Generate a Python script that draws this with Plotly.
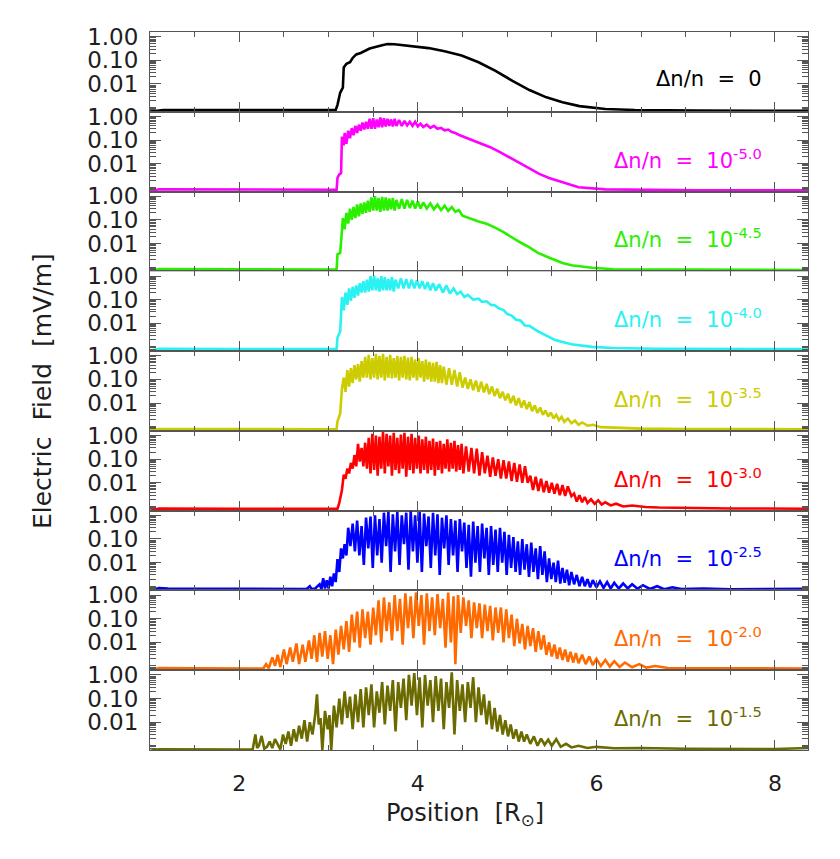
import plotly.graph_objects as go
from plotly.subplots import make_subplots

# ---------------- data (position [R_sun], electric field [mV/m]) ----------------
LABEL_EXPONENTS = ["0", "-5.0", "-4.5", "-4.0", "-3.5", "-3.0", "-2.5", "-2.0", "-1.5"]
LINE_COLORS = ["#000000", "#ff00ff", "#2af000", "#2af2f2", "#cccc00",
               "#ff0000", "#0000ff", "#ff6a00", "#6b6b00"]

BLACK = [(1.00, 6.8e-4), (1.05, 7.2e-4), (1.10, 7.9e-4), (1.15, 7.9e-4), (1.5, 7.9e-4), (2.0, 7.9e-4),
         (2.5, 7.9e-4), (3.0, 7.9e-4), (3.08, 7.9e-4), (3.10, 1.3e-3), (3.13, 4.2e-3), (3.16, 6.9e-3),
         (3.17, 0.05), (3.20, 0.071), (3.24, 0.083), (3.27, 0.126), (3.31, 0.178), (3.36, 0.204),
         (3.46, 0.316), (3.60, 0.44), (3.66, 0.49), (3.74, 0.48), (3.93, 0.40), (4.12, 0.33),
         (4.30, 0.24), (4.49, 0.16), (4.68, 0.083), (4.87, 0.036), (5.06, 0.0135), (5.25, 0.0055),
         (5.44, 0.0027), (5.62, 0.00166), (5.81, 0.00115), (6.10, 8.7e-4), (6.43, 7.9e-4),
         (7.13, 7.4e-4), (8.37, 7.2e-4)]

MAGENTA = [(1.00, 6.8e-4), (1.05, 7.4e-4), (1.10, 8.2e-4), (1.15, 8.2e-4), (2.0, 8.0e-4), (3.0, 7.9e-4),
           (3.09, 7.9e-4), (3.10, 2.5e-3), (3.12, 3.5e-3), (3.14, 4.0e-3), (3.15, 0.14), (3.17, 0.06),
           (3.18, 0.2), (3.20, 0.07), (3.22, 0.25), (3.24, 0.12), (3.26, 0.32), (3.28, 0.16),
           (3.30, 0.4), (3.32, 0.2), (3.34, 0.45), (3.36, 0.25), (3.38, 0.55), (3.40, 0.28),
           (3.42, 0.6), (3.44, 0.3), (3.46, 0.8), (3.48, 0.3), (3.50, 0.85), (3.52, 0.3),
           (3.54, 0.75), (3.56, 0.35), (3.58, 0.9), (3.60, 0.35), (3.62, 0.85), (3.64, 0.38),
           (3.66, 0.8), (3.68, 0.4), (3.70, 0.75), (3.72, 0.38), (3.74, 0.8), (3.76, 0.4),
           (3.79, 0.7), (3.82, 0.4), (3.85, 0.65), (3.88, 0.42), (3.91, 0.6), (3.94, 0.4),
           (3.97, 0.6), (4.00, 0.38), (4.03, 0.5), (4.06, 0.36), (4.10, 0.45), (4.14, 0.33),
           (4.18, 0.4), (4.22, 0.3), (4.26, 0.33), (4.30, 0.26), (4.34, 0.28), (4.38, 0.22),
           (4.42, 0.2), (4.47, 0.16), (4.58, 0.11), (4.70, 0.076), (4.81, 0.05), (4.92, 0.031),
           (5.03, 0.018), (5.14, 0.011), (5.25, 0.0063), (5.36, 0.0037), (5.47, 0.0025),
           (5.58, 0.0018), (5.69, 0.0013), (5.80, 1.0e-3), (6.10, 8.2e-4), (6.43, 7.8e-4),
           (7.13, 7.5e-4), (8.37, 7.4e-4)]

GREEN = [(1.00, 6.8e-4), (1.05, 7.5e-4), (1.10, 8.2e-4), (2.0, 8.0e-4), (3.0, 7.9e-4), (3.09, 7.9e-4),
         (3.10, 3.5e-3), (3.13, 4.0e-3), (3.15, 0.035), (3.16, 0.12), (3.18, 0.04), (3.20, 0.2),
         (3.22, 0.07), (3.24, 0.3), (3.26, 0.1), (3.28, 0.35), (3.30, 0.12), (3.32, 0.45),
         (3.34, 0.14), (3.36, 0.5), (3.38, 0.18), (3.40, 0.55), (3.42, 0.2), (3.44, 0.65),
         (3.46, 0.22), (3.48, 0.9), (3.50, 0.25), (3.52, 1.0), (3.54, 0.25), (3.56, 0.85),
         (3.58, 0.22), (3.60, 0.95), (3.62, 0.25), (3.64, 0.9), (3.66, 0.25), (3.68, 0.8),
         (3.70, 0.28), (3.72, 0.85), (3.74, 0.25), (3.76, 0.7), (3.79, 0.3), (3.82, 0.75),
         (3.85, 0.3), (3.88, 0.7), (3.91, 0.32), (3.94, 0.65), (3.97, 0.3), (4.00, 0.6),
         (4.03, 0.3), (4.06, 0.55), (4.10, 0.3), (4.14, 0.5), (4.18, 0.28), (4.22, 0.45),
         (4.26, 0.26), (4.30, 0.4), (4.34, 0.24), (4.38, 0.35), (4.42, 0.22), (4.46, 0.26),
         (4.50, 0.15), (4.59, 0.11), (4.68, 0.085), (4.77, 0.068), (4.86, 0.048), (4.96, 0.03),
         (5.05, 0.018), (5.15, 0.011), (5.25, 0.0068), (5.34, 0.0041), (5.44, 0.0028),
         (5.53, 0.002), (5.62, 0.0015), (5.72, 0.0012), (5.95, 9.3e-4), (6.19, 8.1e-4),
         (7.13, 7.8e-4), (8.37, 7.5e-4)]

CYAN = [(1.00, 6.8e-4), (1.05, 7.6e-4), (1.10, 8.3e-4), (2.0, 8.1e-4), (3.0, 8.0e-4), (3.09, 8.0e-4),
        (3.10, 2.5e-3), (3.13, 4.5e-3), (3.15, 0.13), (3.17, 0.035), (3.19, 0.2), (3.21, 0.06),
        (3.23, 0.3), (3.25, 0.09), (3.27, 0.35), (3.29, 0.12), (3.31, 0.4), (3.33, 0.15),
        (3.35, 0.5), (3.37, 0.2), (3.39, 0.6), (3.41, 0.2), (3.43, 0.7), (3.45, 0.22),
        (3.47, 1.0), (3.49, 0.25), (3.51, 1.05), (3.53, 0.25), (3.55, 0.8), (3.57, 0.22),
        (3.59, 1.0), (3.61, 0.25), (3.63, 0.9), (3.65, 0.25), (3.67, 0.75), (3.69, 0.25),
        (3.71, 0.9), (3.73, 0.22), (3.75, 0.7), (3.78, 0.3), (3.81, 0.8), (3.84, 0.3),
        (3.87, 0.75), (3.90, 0.3), (3.93, 0.7), (3.96, 0.3), (3.99, 0.65), (4.02, 0.3),
        (4.05, 0.6), (4.08, 0.28), (4.11, 0.55), (4.14, 0.25), (4.17, 0.5), (4.20, 0.24),
        (4.24, 0.45), (4.28, 0.2), (4.32, 0.4), (4.36, 0.18), (4.40, 0.3), (4.44, 0.17),
        (4.48, 0.22), (4.52, 0.13), (4.56, 0.16), (4.62, 0.1), (4.68, 0.11), (4.72, 0.08),
        (4.77, 0.085), (4.82, 0.06), (4.86, 0.058), (4.91, 0.042), (4.96, 0.036), (5.00, 0.025),
        (5.05, 0.021), (5.10, 0.014), (5.15, 0.013), (5.20, 0.008), (5.25, 0.0078), (5.34, 0.0047),
        (5.44, 0.003), (5.53, 0.002), (5.62, 0.0016), (5.72, 0.0013), (5.95, 0.001),
        (6.19, 9.0e-4), (6.66, 8.3e-4), (8.37, 8.0e-4)]

YELLOW = [(1.00, 6.8e-4), (1.05, 7.4e-4), (1.10, 8.0e-4), (2.0, 7.9e-4), (3.0, 7.8e-4), (3.09, 7.8e-4),
          (3.10, 1.7e-3), (3.13, 3.5e-3), (3.15, 0.04), (3.17, 0.12), (3.19, 0.03), (3.21, 0.25),
          (3.23, 0.05), (3.25, 0.3), (3.27, 0.07), (3.29, 0.4), (3.31, 0.1), (3.33, 0.45),
          (3.35, 0.08), (3.37, 0.6), (3.39, 0.12), (3.41, 0.9), (3.43, 0.12), (3.45, 1.1),
          (3.47, 0.1), (3.49, 0.8), (3.51, 0.12), (3.53, 1.2), (3.55, 0.1), (3.57, 1.0),
          (3.59, 0.12), (3.61, 1.2), (3.63, 0.09), (3.65, 0.9), (3.67, 0.12), (3.69, 1.1),
          (3.71, 0.11), (3.73, 0.8), (3.75, 0.12), (3.77, 1.0), (3.79, 0.09), (3.81, 0.9),
          (3.83, 0.12), (3.85, 1.0), (3.87, 0.1), (3.89, 0.85), (3.91, 0.09), (3.93, 0.9),
          (3.95, 0.12), (3.97, 0.7), (3.99, 0.09), (4.01, 0.8), (4.03, 0.12), (4.05, 0.6),
          (4.07, 0.08), (4.09, 0.7), (4.11, 0.1), (4.13, 0.55), (4.15, 0.08), (4.17, 0.5),
          (4.19, 0.08), (4.21, 0.55), (4.23, 0.07), (4.25, 0.4), (4.27, 0.07), (4.29, 0.35),
          (4.32, 0.06), (4.35, 0.3), (4.38, 0.06), (4.41, 0.25), (4.44, 0.05), (4.47, 0.2),
          (4.50, 0.045), (4.53, 0.12), (4.56, 0.04), (4.59, 0.1), (4.62, 0.035), (4.65, 0.09),
          (4.68, 0.03), (4.71, 0.08), (4.74, 0.028), (4.77, 0.065), (4.80, 0.024), (4.83, 0.05),
          (4.86, 0.02), (4.89, 0.04), (4.92, 0.016), (4.95, 0.03), (4.98, 0.013), (5.01, 0.025),
          (5.04, 0.01), (5.07, 0.02), (5.10, 0.008), (5.13, 0.016), (5.16, 0.0065), (5.19, 0.013),
          (5.22, 0.0055), (5.25, 0.011), (5.28, 0.0045), (5.31, 0.008), (5.34, 0.0038), (5.37, 0.0065),
          (5.40, 0.0032), (5.43, 0.0048), (5.46, 0.0027), (5.49, 0.004), (5.52, 0.0022), (5.55, 0.0032),
          (5.58, 0.0019), (5.61, 0.0026), (5.64, 0.0016), (5.68, 0.0022), (5.72, 0.0014), (5.76, 0.0018),
          (5.80, 0.0012), (5.84, 0.0015), (5.90, 0.0011), (5.96, 0.0012), (6.05, 9.5e-4), (6.20, 9.0e-4),
          (6.50, 8.2e-4), (7.00, 8.0e-4), (8.37, 7.8e-4)]

RED = [(1.00, 6.5e-4), (1.05, 7.5e-4), (1.10, 8.2e-4), (2.0, 8.0e-4), (3.0, 7.9e-4), (3.10, 8.0e-4),
       (3.12, 1.4e-3), (3.15, 5.0e-3), (3.17, 0.022), (3.19, 0.015), (3.21, 0.04), (3.23, 0.025),
       (3.25, 0.07), (3.27, 0.04), (3.29, 0.15), (3.31, 0.05), (3.33, 0.45), (3.35, 0.08),
       (3.37, 0.3), (3.39, 0.05), (3.41, 0.5), (3.43, 0.04), (3.45, 0.8), (3.47, 0.025),
       (3.49, 1.2), (3.51, 0.035), (3.53, 1.0), (3.55, 0.02), (3.57, 0.9), (3.59, 0.04),
       (3.61, 1.4), (3.63, 0.025), (3.65, 1.2), (3.67, 0.05), (3.69, 1.0), (3.71, 0.02),
       (3.73, 1.3), (3.75, 0.035), (3.77, 0.8), (3.79, 0.025), (3.81, 1.1), (3.83, 0.04),
       (3.85, 1.3), (3.87, 0.018), (3.89, 0.9), (3.91, 0.035), (3.93, 1.2), (3.95, 0.025),
       (3.97, 0.8), (3.99, 0.04), (4.01, 1.0), (4.03, 0.025), (4.05, 0.7), (4.07, 0.035),
       (4.09, 0.9), (4.11, 0.025), (4.13, 0.6), (4.15, 0.035), (4.17, 0.75), (4.19, 0.02),
       (4.21, 0.55), (4.23, 0.035), (4.25, 0.6), (4.27, 0.025), (4.29, 0.45), (4.31, 0.04),
       (4.33, 0.7), (4.35, 0.03), (4.37, 0.5), (4.39, 0.04), (4.41, 0.6), (4.43, 0.03),
       (4.45, 0.4), (4.47, 0.035), (4.49, 0.45), (4.51, 0.025), (4.54, 0.35), (4.57, 0.03),
       (4.60, 0.3), (4.63, 0.025), (4.66, 0.28), (4.69, 0.02), (4.72, 0.2), (4.75, 0.025),
       (4.78, 0.14), (4.81, 0.018), (4.84, 0.12), (4.87, 0.02), (4.90, 0.1), (4.93, 0.015),
       (4.96, 0.09), (4.99, 0.015), (5.02, 0.08), (5.05, 0.012), (5.08, 0.07), (5.11, 0.011),
       (5.14, 0.06), (5.17, 0.01), (5.20, 0.05), (5.23, 0.01), (5.26, 0.02), (5.29, 0.005),
       (5.32, 0.018), (5.35, 0.0045), (5.38, 0.015), (5.41, 0.004), (5.44, 0.012), (5.47, 0.0038),
       (5.50, 0.01), (5.53, 0.0035), (5.56, 0.009), (5.59, 0.003), (5.62, 0.008), (5.65, 0.0028),
       (5.68, 0.007), (5.72, 0.0027), (5.75, 0.0035), (5.78, 0.0016), (5.81, 0.003), (5.84, 0.0015),
       (5.87, 0.0025), (5.90, 0.0014), (5.94, 0.002), (5.98, 0.0013), (6.02, 0.0018), (6.06, 0.0012),
       (6.10, 0.0015), (6.16, 0.0011), (6.22, 0.0013), (6.30, 0.001), (6.40, 0.0011), (6.55, 9.5e-4),
       (6.70, 9.0e-4), (7.00, 8.5e-4), (7.50, 8.2e-4), (8.37, 8.0e-4)]

BLUE = [(1.00, 6.5e-4), (1.05, 7.5e-4), (1.10, 8.3e-4), (1.20, 8.0e-4), (1.5, 7.8e-4), (2.0, 7.5e-4),
        (2.5, 7.4e-4), (2.75, 7.5e-4), (2.79, 1.0e-3), (2.81, 7.5e-4), (2.85, 8.0e-4), (2.90, 1.2e-3),
        (2.92, 7.5e-4), (2.94, 2.2e-3), (2.96, 8.0e-4), (2.98, 1.8e-3), (3.00, 8.0e-4), (3.02, 2.5e-3),
        (3.04, 1.0e-3), (3.06, 3.5e-3), (3.08, 1.5e-3), (3.10, 0.014), (3.12, 0.004), (3.14, 0.04),
        (3.16, 0.015), (3.18, 0.06), (3.20, 0.02), (3.22, 0.3), (3.245, 0.05), (3.27, 0.45),
        (3.295, 0.03), (3.32, 0.6), (3.345, 0.02), (3.37, 0.35), (3.395, 0.008), (3.42, 0.8),
        (3.445, 0.04), (3.47, 0.9), (3.495, 0.006), (3.52, 1.0), (3.545, 0.02), (3.57, 0.7),
        (3.595, 0.01), (3.62, 1.3), (3.645, 0.05), (3.67, 1.4), (3.695, 0.004), (3.72, 1.1),
        (3.745, 0.03), (3.77, 1.4), (3.795, 0.008), (3.82, 1.0), (3.845, 0.06), (3.87, 1.3),
        (3.895, 0.005), (3.92, 1.5), (3.945, 0.03), (3.97, 1.0), (3.995, 0.01), (4.02, 1.4),
        (4.045, 0.004), (4.07, 1.2), (4.095, 0.05), (4.12, 0.9), (4.145, 0.006), (4.17, 1.3),
        (4.195, 0.02), (4.22, 1.1), (4.245, 0.003), (4.27, 0.8), (4.295, 0.04), (4.32, 1.0),
        (4.345, 0.008), (4.37, 0.7), (4.395, 0.02), (4.42, 0.6), (4.445, 0.004), (4.47, 0.7),
        (4.495, 0.03), (4.52, 0.5), (4.545, 0.006), (4.57, 0.4), (4.595, 0.0025), (4.62, 0.55),
        (4.645, 0.01), (4.67, 0.35), (4.695, 0.004), (4.72, 0.45), (4.745, 0.015), (4.77, 0.3),
        (4.795, 0.003), (4.82, 0.35), (4.845, 0.008), (4.87, 0.25), (4.895, 0.004), (4.92, 0.3),
        (4.945, 0.01), (4.97, 0.2), (4.995, 0.003), (5.02, 0.15), (5.045, 0.006), (5.07, 0.12),
        (5.095, 0.004), (5.12, 0.08), (5.145, 0.003), (5.17, 0.1), (5.195, 0.005), (5.22, 0.06),
        (5.245, 0.0025), (5.27, 0.07), (5.295, 0.004), (5.32, 0.04), (5.345, 0.002), (5.37, 0.05),
        (5.395, 0.003), (5.42, 0.03), (5.445, 0.0015), (5.47, 0.015), (5.495, 0.002), (5.52, 0.01),
        (5.545, 0.0015), (5.57, 0.012), (5.595, 0.0013), (5.62, 0.006), (5.645, 0.0014), (5.67, 0.005),
        (5.695, 0.0011), (5.72, 0.004), (5.75, 0.0012), (5.78, 0.003), (5.81, 0.001), (5.84, 0.0025),
        (5.87, 0.001), (5.90, 0.002), (5.93, 9.0e-4), (5.96, 0.0018), (6.00, 9.0e-4), (6.04, 0.0016),
        (6.08, 8.5e-4), (6.12, 0.0015), (6.16, 8.0e-4), (6.20, 0.0014), (6.25, 8.0e-4), (6.30, 0.0013),
        (6.35, 8.0e-4), (6.40, 0.0012), (6.46, 7.8e-4), (6.52, 0.0011), (6.60, 7.6e-4), (6.68, 0.001),
        (6.76, 7.5e-4), (6.85, 9.0e-4), (6.95, 7.5e-4), (7.20, 8.0e-4), (7.50, 7.4e-4), (8.00, 7.5e-4),
        (8.37, 7.8e-4)]

ORANGE = [(1.00, 6.5e-4), (1.05, 7.5e-4), (1.10, 8.2e-4), (1.5, 8.0e-4), (2.0, 7.8e-4), (2.27, 7.8e-4),
          (2.30, 1.2e-3), (2.33, 8.0e-4), (2.37, 2.3e-3), (2.40, 1.0e-3), (2.43, 3.0e-3), (2.46, 9.0e-4),
          (2.50, 5.0e-3), (2.53, 1.2e-3), (2.57, 6.0e-3), (2.60, 1.5e-3), (2.64, 9.0e-3), (2.67, 1.2e-3),
          (2.71, 0.008), (2.74, 1.5e-3), (2.78, 0.012), (2.81, 2.0e-3), (2.84, 0.02), (2.87, 1.5e-3),
          (2.90, 0.025), (2.93, 2.5e-3), (2.96, 0.03), (2.99, 2.0e-3), (3.02, 0.02), (3.05, 1.2e-3),
          (3.08, 0.035), (3.11, 3.0e-3), (3.14, 0.05), (3.17, 5.0e-3), (3.20, 0.08), (3.23, 4.0e-3),
          (3.26, 0.15), (3.29, 0.01), (3.32, 0.2), (3.35, 0.006), (3.38, 0.25), (3.41, 0.015),
          (3.44, 0.2), (3.47, 0.008), (3.50, 0.3), (3.53, 0.02), (3.56, 0.6), (3.59, 0.01),
          (3.62, 0.8), (3.65, 0.03), (3.68, 0.5), (3.71, 0.012), (3.74, 1.0), (3.77, 0.03),
          (3.80, 0.7), (3.83, 0.008), (3.86, 1.2), (3.89, 0.04), (3.92, 0.9), (3.95, 0.015),
          (3.98, 1.3), (4.01, 0.05), (4.04, 1.0), (4.07, 0.008), (4.10, 1.2), (4.13, 0.03),
          (4.16, 0.8), (4.19, 0.02), (4.22, 1.1), (4.25, 0.04), (4.28, 0.7), (4.31, 0.006),
          (4.34, 1.3), (4.37, 0.01), (4.40, 0.9), (4.42, 0.0012), (4.45, 1.0), (4.48, 0.025),
          (4.51, 0.8), (4.54, 0.05), (4.57, 0.6), (4.60, 0.015), (4.63, 0.5), (4.66, 0.04),
          (4.69, 0.45), (4.72, 0.015), (4.75, 0.4), (4.78, 0.03), (4.81, 0.35), (4.84, 0.012),
          (4.87, 0.3), (4.90, 0.025), (4.93, 0.3), (4.96, 0.01), (4.99, 0.25), (5.02, 0.015),
          (5.05, 0.15), (5.08, 0.007), (5.11, 0.1), (5.14, 0.009), (5.17, 0.06), (5.20, 0.005),
          (5.23, 0.05), (5.26, 0.007), (5.29, 0.04), (5.32, 0.004), (5.35, 0.03), (5.38, 0.005),
          (5.41, 0.02), (5.44, 0.003), (5.47, 0.01), (5.50, 0.0025), (5.53, 0.008), (5.56, 0.002),
          (5.59, 0.006), (5.62, 0.0018), (5.65, 0.005), (5.68, 0.0015), (5.71, 0.004), (5.74, 0.0014),
          (5.77, 0.0035), (5.80, 0.0013), (5.84, 0.003), (5.88, 0.0012), (5.92, 0.0025), (5.96, 0.0011),
          (6.00, 0.002), (6.05, 0.001), (6.10, 0.0018), (6.15, 9.5e-4), (6.20, 0.0016), (6.26, 9.0e-4),
          (6.32, 0.0014), (6.40, 8.8e-4), (6.48, 0.0012), (6.56, 8.5e-4), (6.66, 0.001), (6.80, 8.2e-4),
          (7.20, 8.0e-4), (8.37, 7.8e-4)]

OLIVE = [(1.00, 6.0e-4), (1.05, 6.8e-4), (1.10, 7.0e-4), (1.5, 7.0e-4), (2.0, 6.9e-4), (2.15, 6.9e-4),
         (2.18, 0.003), (2.20, 8.0e-4), (2.22, 1.0e-3), (2.25, 0.0026), (2.28, 7.5e-4), (2.31, 9.0e-4),
         (2.34, 1.5e-3), (2.37, 8.0e-4), (2.40, 0.0019), (2.43, 1.2e-3), (2.46, 7.0e-4), (2.49, 0.003),
         (2.52, 1.2e-3), (2.55, 0.004), (2.58, 1.0e-3), (2.61, 0.005), (2.64, 1.5e-3), (2.67, 0.007),
         (2.70, 2.0e-3), (2.73, 0.012), (2.76, 1.5e-3), (2.79, 0.01), (2.82, 3.0e-3), (2.85, 0.02),
         (2.87, 0.15), (2.89, 0.008), (2.91, 0.015), (2.93, 6.5e-4), (2.96, 0.03), (2.99, 0.005),
         (3.01, 0.02), (3.03, 6.5e-4), (3.06, 0.05), (3.09, 0.006), (3.12, 0.1), (3.15, 0.008),
         (3.18, 0.2), (3.21, 0.015), (3.24, 0.12), (3.27, 0.005), (3.30, 0.15), (3.33, 0.01),
         (3.36, 0.25), (3.39, 0.006), (3.42, 0.3), (3.45, 0.02), (3.48, 0.4), (3.51, 0.006),
         (3.54, 0.2), (3.57, 0.025), (3.60, 0.5), (3.63, 0.008), (3.66, 0.35), (3.69, 0.03),
         (3.72, 0.6), (3.75, 0.004), (3.78, 0.5), (3.81, 0.04), (3.84, 0.7), (3.87, 0.012),
         (3.90, 1.0), (3.93, 0.05), (3.96, 1.2), (3.99, 0.02), (4.02, 0.8), (4.05, 0.006),
         (4.08, 1.0), (4.11, 0.05), (4.14, 0.6), (4.17, 0.01), (4.20, 0.9), (4.23, 0.03),
         (4.26, 0.7), (4.29, 0.005), (4.32, 0.5), (4.35, 0.04), (4.38, 1.3), (4.41, 0.003),
         (4.44, 0.6), (4.47, 0.03), (4.50, 0.4), (4.53, 0.01), (4.56, 0.5), (4.59, 0.04),
         (4.62, 0.8), (4.65, 0.01), (4.68, 0.3), (4.71, 0.02), (4.74, 0.15), (4.77, 0.008),
         (4.80, 0.08), (4.83, 0.005), (4.86, 0.04), (4.89, 0.004), (4.92, 0.02), (4.95, 0.003),
         (4.98, 0.012), (5.01, 0.0025), (5.04, 0.008), (5.07, 0.002), (5.10, 0.005), (5.13, 0.0015),
         (5.16, 0.004), (5.19, 0.0015), (5.22, 0.003), (5.26, 0.0012), (5.30, 0.0025), (5.34, 0.001),
         (5.38, 0.002), (5.42, 0.0011), (5.46, 0.0018), (5.50, 0.001), (5.55, 0.0019), (5.60, 9.0e-4),
         (5.66, 0.0012), (5.72, 8.5e-4), (5.80, 0.001), (5.90, 8.0e-4), (6.00, 9.0e-4), (6.20, 7.8e-4),
         (6.50, 8.0e-4), (7.00, 7.5e-4), (7.50, 7.5e-4), (8.00, 7.3e-4), (8.37, 8.0e-4)]

SERIES = [BLACK, MAGENTA, GREEN, CYAN, YELLOW, RED, BLUE, ORANGE, OLIVE]

X_RANGE = [1.0, 8.37]
X_TICKS = [2, 4, 6, 8]
Y_TICKS = [0.01, 0.1, 1.0]
Y_TICKTEXT = ["0.01", "0.10", "1.00"]
Y_MINOR = [7e-4, 8e-4, 9e-4, 1e-3, 2e-3, 3e-3, 4e-3, 5e-3, 6e-3, 7e-3, 8e-3, 9e-3,
           0.02, 0.03, 0.04, 0.05, 0.06, 0.07, 0.08, 0.09,
           0.2, 0.3, 0.4, 0.5, 0.6, 0.7, 0.8, 0.9]

# ---------------- figure ----------------
n = len(SERIES)
fig = make_subplots(rows=n, cols=1, shared_xaxes=True, vertical_spacing=0)

FONT = "DejaVu Sans"
AXIS_COLOR = "#555555"
TEXT_COLOR = "#1e1e1e"

for i, (pts, color, expo) in enumerate(zip(SERIES, LINE_COLORS, LABEL_EXPONENTS)):
    r = i + 1
    xs = [p[0] for p in pts]
    ys = [p[1] for p in pts]
    fig.add_trace(go.Scatter(x=xs, y=ys, mode="lines",
                             line=dict(color=color, width=2.6),
                             showlegend=False, hoverinfo="skip"), row=r, col=1)
    fig.update_yaxes(type="log", range=[-3.18, 0.2],
                     tickmode="array", tickvals=Y_TICKS, ticktext=Y_TICKTEXT,
                     ticks="inside", ticklen=11, tickwidth=1, tickcolor=AXIS_COLOR,
                     minor=dict(tickmode="array", tickvals=Y_MINOR, ticks="inside",
                                ticklen=6, tickwidth=1, tickcolor=AXIS_COLOR, showgrid=False),
                     showline=True, linecolor=AXIS_COLOR, linewidth=1, mirror="ticks",
                     showgrid=False, zeroline=False,
                     tickfont=dict(family=FONT, size=23, color=TEXT_COLOR),
                     ticklabelstandoff=6,
                     row=r, col=1)
    fig.update_xaxes(range=X_RANGE, tickmode="array", tickvals=X_TICKS,
                     ticks="inside", ticklen=10, tickcolor=AXIS_COLOR,
                     minor=dict(dtick=0.5, tick0=0, ticks="inside", ticklen=5,
                                tickcolor=AXIS_COLOR, showgrid=False),
                     showline=True, linecolor=AXIS_COLOR, linewidth=1, mirror="ticks",
                     showgrid=False, zeroline=False,
                     showticklabels=(r == n),
                     tickfont=dict(family=FONT, size=22, color=TEXT_COLOR),
                     ticklabelstandoff=14,
                     row=r, col=1)
    sp = "\u00a0\u00a0"
    if expo == "0":
        txt = f"Δn/n{sp}={sp}0"
    else:
        txt = f"Δn/n{sp}={sp}10<sup>{expo}</sup>"
    yref = "y" if r == 1 else f"y{r}"
    xref = "x" if r == 1 else f"x{r}"
    fig.add_annotation(x=7.88, y=-1.78, xref=xref, yref=yref, text=txt,
                       showarrow=False, xanchor="right", yanchor="middle",
                       font=dict(family=FONT, size=21, color=color))

fig.add_annotation(x=-0.164, y=0.5, xref="paper", yref="paper",
                   text="Electric\u00a0\u00a0Field\u00a0\u00a0[mV/m]", textangle=-90,
                   showarrow=False, xanchor="center", yanchor="middle",
                   font=dict(family=FONT, size=25, color=TEXT_COLOR))
fig.add_annotation(x=0.478, y=-0.09, xref="paper", yref="paper",
                   text="Position\u00a0\u00a0[R<sub>⊙</sub>]",
                   showarrow=False, xanchor="center", yanchor="middle",
                   font=dict(family=FONT, size=24, color=TEXT_COLOR))

# page body has an 8px margin: size the figure so the plot frame lands where the reference has it
fig.update_layout(width=832, height=851,
                  margin=dict(l=142, r=32, t=24, b=109),
                  paper_bgcolor="white", plot_bgcolor="white")

fig.write_html("out.html")
